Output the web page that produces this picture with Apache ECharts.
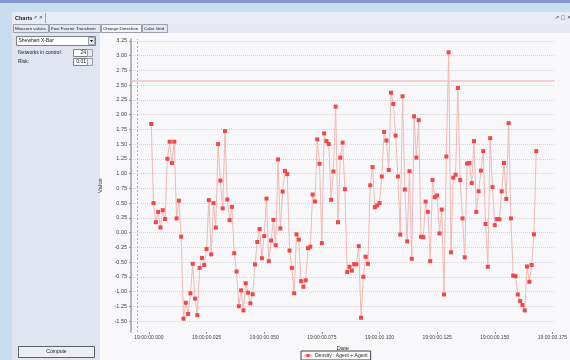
<!DOCTYPE html>
<html>
<head>
<meta charset="utf-8">
<script src="https://cdn.jsdelivr.net/npm/echarts@6/dist/echarts.min.js"></script>
<style>
  html, body { margin: 0; padding: 0; background: #c9dcf0; }
  #chart { width: 570px; height: 360px; }
</style>
</head>
<body>
<div id="chart"></div>
<script>
// Change detection values, one per millisecond
const density = [
  1.84, 0.50, 0.175, 0.35, 0.085, 0.38, 0.23, 1.25, 1.54, 1.18,
  1.54, 0.24, 0.54, -0.07, -1.46, -1.19, -1.38, -1.03, -0.53, -1.12,
  -1.40, -0.60, -0.43, -0.55, -0.28, 0.55, -0.37, 0.50, 0.085, 1.50,
  0.88, 0.41, 1.72, 0.56, 0.21, 0.435, -0.35, -0.66, -1.25, -0.98,
  -1.32, -0.86, -1.02, -1.20, -1.045, -0.54, -0.16, 0.06, -0.435, -0.06,
  0.575, -0.485, -0.135, 0.215, -0.215, 1.24, 0.07, 0.695, 1.045, 0.99,
  -0.305, -0.60, -1.03, -0.03, -0.12, -0.825, -0.92, -0.81, -0.265, -0.24,
  0.645, 0.525, 1.58, 1.165, -0.18, 1.68, 1.55, 1.50, 0.555, 1.035,
  2.135, 0.175, 1.27, 1.525, 0.735, -0.67, -0.58, -0.645, -0.535, -0.54,
  -0.23, -1.445, -0.75, -0.41, -0.53, 0.80, 1.11, 0.43, 0.46, 0.50,
  0.95, 1.705, 1.56, 1.06, 2.37, 2.18, 1.645, 0.95, -0.035, 2.31,
  0.73, -0.15, 1.04, -0.445, 1.97, 1.27, 1.905, -0.07, -0.08, 0.525,
  0.35, -0.485, 0.89, 0.60, 0.63, -0.015, 0.39, -1.05, 1.29, 3.055,
  -0.335, 0.93, 0.98, 2.45, 0.89, 0.24, -0.42, 1.17, 1.18, 0.84,
  1.55, 0.35, 0.70, 1.05, 1.38, 0.145, -0.58, 1.60, 0.77, 0.125,
  0.23, 0.225, 0.70, 1.18, 0.57, 1.855, 0.24, -0.73, -0.74, -1.05,
  -1.16, -1.23, -1.32, -0.575, -0.835, -0.55, -0.03, 1.38
];
const startMs = 1;
const stepMs = 1;
const xTicks = [0, 25, 50, 75, 100, 125, 150, 175];
const yTicks = [-1.5, -1.25, -1, -0.75, -0.5, -0.25, 0, 0.25, 0.5, 0.75,
  1, 1.25, 1.5, 1.75, 2, 2.25, 2.5, 2.75, 3, 3.25];
const threshold = 2.575;
const crosshairMs = -4.9;
const seriesName = 'Density : Agent + Agent';
const tabs = ['Measure values', 'Fast Fourier Transform', 'Change Detection', 'Color Grid'];

const points = density.map((v, i) => [startMs + i * stepMs, v]);
const fam = '"Liberation Sans", Arial, sans-serif';

function txt(x, y, text, extra) {
  return { type: 'text', x: x, y: y, silent: true,
    style: Object.assign({ text: text, font: '5px ' + fam, fill: '#222', verticalAlign: 'middle' }, extra || {}) };
}
function box(x, y, w, h, fill, stroke) {
  return { type: 'rect', shape: { x: x, y: y, width: w, height: h }, silent: true,
    style: { fill: fill, stroke: stroke || null, lineWidth: 1 } };
}

// tab strip
const tabX = [13, 49, 101, 142];
const tabW = [35, 51, 40, 25];
const tabEls = [];
tabs.forEach((t, i) => {
  const sel = i === 2;
  tabEls.push(box(tabX[i] + 0.5, 24.5, tabW[i], 8, sel ? '#f4f5f8' : '#e2e6ee', '#9aa0ac'));
  tabEls.push(txt(tabX[i] + 2, 28.8, t, { font: '4.4px ' + fam }));
});

const chart = echarts.init(document.getElementById('chart'));
chart.setOption({
  animation: false,
  backgroundColor: '#c9dcf0',
  graphic: [
    { type: 'group', z: -10, silent: true, children: [
      box(0, 0, 570, 3, '#8797cf'),
      box(12, 12, 558, 12, '#e9ecf3'),
      txt(15, 18, 'Charts', { font: 'bold 5.5px ' + fam }),
      txt(33, 18, '\u21d7 \u2715', { font: '5px "DejaVu Sans", sans-serif', fill: '#444' }),
      { type: 'line', shape: { x1: 45.5, y1: 13, x2: 45.5, y2: 23 }, style: { stroke: '#9aa0ac' } },
      txt(555, 18, '\u21d7 \u25a1 \u2715', { font: '5px "DejaVu Sans", sans-serif', fill: '#444' }),
      box(12, 24, 558, 9, '#e4e7ef'),
      ...tabEls,
      box(12, 33, 88, 327, '#e1e5ef'),
      box(100, 33, 470, 327, '#f8f8fa'),
      // combo box
      box(16.5, 36.5, 79, 9, '#ffffff', '#7a808c'),
      txt(18.5, 41, 'Shewhart X-Bar'),
      box(88.5, 37.5, 6, 7, '#e8eaee', '#9aa0ac'),
      { type: 'polygon', shape: { points: [[89.8, 40], [93.2, 40], [91.5, 42.2]] }, style: { fill: '#222' } },
      // spinners
      txt(18, 52.5, 'Networks in control:'),
      box(73.5, 49.5, 19, 7, '#ffffff', '#7a808c'),
      txt(86, 53, '24', { align: 'right' }),
      box(87.5, 49.5, 5, 7, '#e8eaee', '#9aa0ac'),
      txt(18, 61.5, 'Risk:'),
      box(73.5, 58.5, 19, 7, '#ffffff', '#7a808c'),
      txt(86, 62, '0.01', { align: 'right' }),
      box(87.5, 58.5, 5, 7, '#e8eaee', '#9aa0ac'),
      // compute button
      box(18.5, 346.5, 76, 11, '#eceef2', '#5a606c'),
      txt(56.5, 352, 'Compute', { align: 'center' })
    ] }
  ],
  grid: { left: 131, right: 6, top: 39, bottom: 28, show: true, backgroundColor: '#ffffff',
    borderColor: '#a8a8a8', borderWidth: 1 },
  legend: {
    data: [seriesName], left: 301, top: 351, orient: 'horizontal',
    borderColor: '#444', borderWidth: 1, padding: [2, 3, 2, 2], itemWidth: 8, itemHeight: 4, itemGap: 2,
    textStyle: { fontSize: 5, fontFamily: fam, color: '#333', padding: [0, 0, 0, -2] }
  },
  xAxis: {
    type: 'value', min: -7.77, max: 176.0,
    name: 'Date', nameLocation: 'middle', nameGap: 10,
    nameTextStyle: { fontSize: 6, fontFamily: fam, color: '#333' },
    axisLine: { show: false, onZero: false },
    axisTick: { show: true, customValues: xTicks, length: 2, lineStyle: { color: '#999' } },
    axisLabel: { customValues: xTicks, fontSize: 5, margin: 3, color: '#444', fontFamily: fam,
      formatter: v => '19:00:00.' + String(Math.round(v)).padStart(3, '0') },
    splitLine: { show: false }
  },
  yAxis: {
    type: 'value', min: -1.686, max: 3.281,
    name: 'Value', nameLocation: 'middle', nameGap: 20, nameRotate: 90,
    nameTextStyle: { fontSize: 6, fontFamily: fam, color: '#333' },
    axisLine: { show: true, onZero: false, lineStyle: { color: '#a0a0a0', width: 1.5 } },
    axisTick: { show: true, customValues: yTicks, length: 2, lineStyle: { color: '#999' } },
    axisLabel: { customValues: yTicks, fontSize: 5.5, margin: 4, color: '#444', fontFamily: fam,
      formatter: v => v.toFixed(2) },
    splitLine: { show: true, lineStyle: { color: '#d4d4d4', type: [1, 1], width: 1 } }
  },
  series: [{
    name: seriesName, type: 'line', data: points,
    symbol: 'rect', symbolSize: 4,
    itemStyle: { color: '#f04848' },
    lineStyle: { color: '#f2b8b8', width: 1 },
    markLine: {
      silent: true, symbol: 'none', label: { show: false },
      data: [
        { yAxis: threshold, lineStyle: { color: '#f2c4c4', width: 1.5, type: 'solid' } },
        { xAxis: crosshairMs, lineStyle: { color: '#aab0e6', width: 1, type: [2, 2] } }
      ]
    }
  }]
});
</script>
</body>
</html>
